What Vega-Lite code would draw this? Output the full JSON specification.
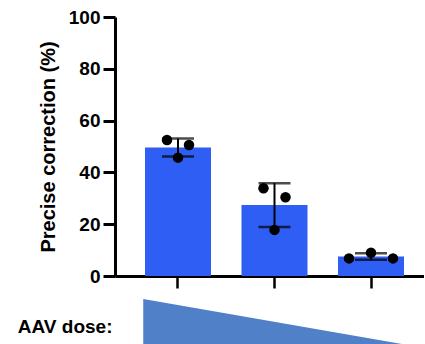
{
  "$schema": "https://vega.github.io/schema/vega-lite/v6.json",
  "padding": {"left": 17, "top": 8, "right": 0, "bottom": 0},
  "spacing": 9,
  "config": {
    "view": {"stroke": null},
    "font": "Liberation Sans",
    "axis": {"grid": false, "domainColor": "black", "tickColor": "black", "labelColor": "black", "titleColor": "black"}
  },
  "datasets": {
    "reps": [
      {"group": "Dose 1", "rep": "b", "value": 52.5},
      {"group": "Dose 1", "rep": "d", "value": 50.6},
      {"group": "Dose 1", "rep": "c", "value": 45.7},
      {"group": "Dose 2", "rep": "b", "value": 33.9},
      {"group": "Dose 2", "rep": "d", "value": 30.4},
      {"group": "Dose 2", "rep": "c", "value": 17.8},
      {"group": "Dose 3", "rep": "a", "value": 6.8},
      {"group": "Dose 3", "rep": "c", "value": 9.0},
      {"group": "Dose 3", "rep": "e", "value": 6.8}
    ],
    "dose": [
      {"pos": -0.36, "level": 1.0},
      {"pos": 2.32, "level": 0.045}
    ]
  },
  "vconcat": [
    {
      "width": 309,
      "height": 259,
      "data": {"name": "reps"},
      "encoding": {
        "x": {
          "field": "group",
          "type": "nominal",
          "scale": {"paddingInner": 0.316, "paddingOuter": 0.259, "align": 0.6},
          "axis": {"title": null, "labels": false, "domainWidth": 3, "tickWidth": 2.5, "tickSize": 12}
        }
      },
      "layer": [
        {
          "mark": {"type": "bar", "color": "#2f5ef4"},
          "encoding": {
            "y": {
              "aggregate": "mean",
              "field": "value",
              "type": "quantitative",
              "title": "Precise correction (%)",
              "scale": {"domain": [0, 100]},
              "axis": {
                "titleFontSize": 20,
                "titleFontWeight": "bold",
                "titlePadding": 10,
                "labelFontSize": 19,
                "labelFontWeight": "bold",
                "labelPadding": 3,
                "values": [0, 20, 40, 60, 80, 100],
                "domainWidth": 3,
                "tickWidth": 3,
                "tickSize": 12
              }
            }
          }
        },
        {
          "mark": {"type": "errorbar", "extent": "stdev", "color": "black", "thickness": 2, "ticks": {"size": 32, "color": "black", "thickness": 2.5}},
          "encoding": {
            "y": {"field": "value", "type": "quantitative", "title": "Precise correction (%)"}
          }
        },
        {
          "mark": {"type": "point", "filled": true, "color": "black", "opacity": 1, "size": 110},
          "encoding": {
            "y": {"field": "value", "type": "quantitative", "title": "Precise correction (%)"},
            "xOffset": {"field": "rep", "type": "nominal", "scale": {"type": "point", "padding": 1, "domain": ["a", "b", "c", "d", "e"]}}
          }
        }
      ],
      "resolve": {"scale": {"xOffset": "independent"}}
    },
    {
      "width": 309,
      "height": 47,
      "data": {"name": "dose"},
      "mark": {"type": "area", "color": "#5080c8", "opacity": 1},
      "encoding": {
        "x": {"field": "pos", "type": "quantitative", "scale": {"domain": [-0.653, 2.549], "nice": false, "zero": false}, "axis": null},
        "y": {
          "field": "level",
          "type": "quantitative",
          "scale": {"domain": [0, 1], "nice": false},
          "axis": {
            "title": "AAV dose:",
            "titleAngle": 0,
            "titleAlign": "right",
            "titleBaseline": "middle",
            "titleFontSize": 19,
            "titleFontWeight": "bold",
            "titlePadding": 3,
            "titleY": 27,
            "labels": false,
            "ticks": false,
            "domain": false
          }
        }
      }
    }
  ]
}
